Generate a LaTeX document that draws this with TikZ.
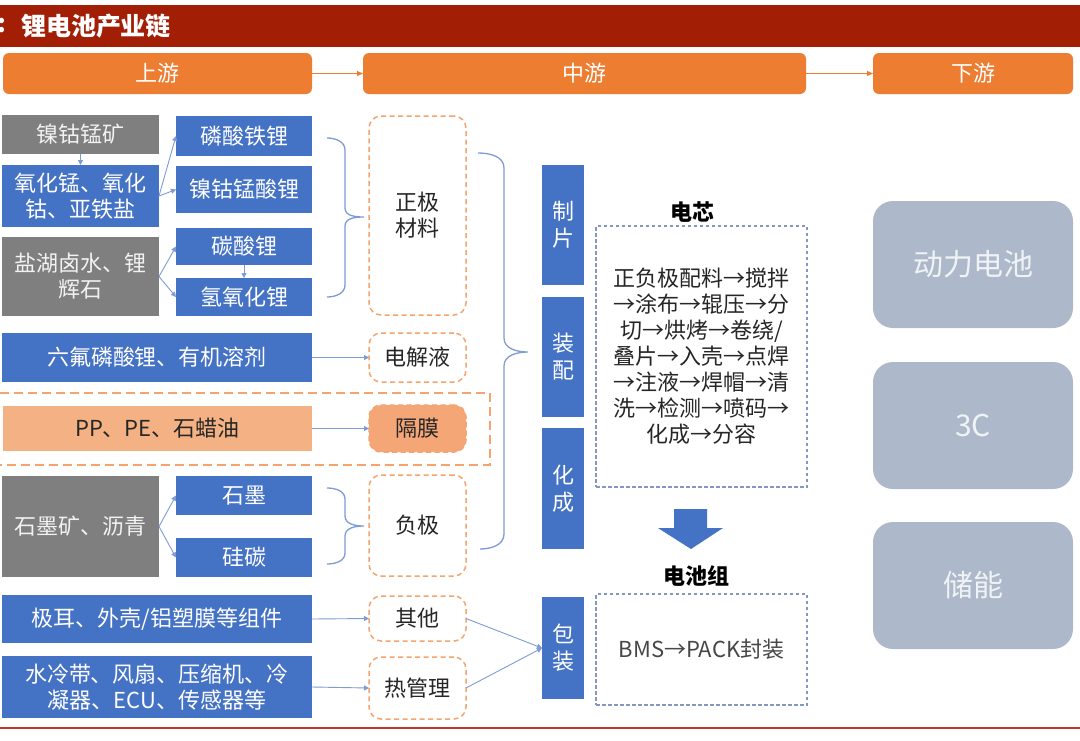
\documentclass[tikz,border=0pt]{standalone}
\usepackage{fontspec}
\setmainfont{Noto Sans CJK SC}
\usetikzlibrary{arrows.meta}
\definecolor{titlered}{HTML}{A21E05}
\definecolor{horange}{HTML}{ED7D31}
\definecolor{cblue}{HTML}{4472C4}
\definecolor{cgray}{HTML}{7F7F7F}
\definecolor{ppfill}{HTML}{F4B183}
\definecolor{gmfill}{HTML}{F4A677}
\definecolor{dorange}{HTML}{F4A46C}
\definecolor{dblue}{HTML}{8497C0}
\definecolor{cline}{HTML}{7E9BD4}
\definecolor{rgray}{HTML}{ADB9CA}
\definecolor{ctext}{HTML}{262626}
\definecolor{bline}{HTML}{C0392B}
\newcommand\fsz{\fontsize{22}{26}\selectfont}
\newcommand\mkbox[7]{\node[#1, minimum width={(#5)-(#3)}, minimum height={(#6)-(#4)}] (#2) at ({((#3)+(#5))/2},{((#4)+(#6))/2}) {#7};}
\tikzset{
 base/.style={inner sep=0pt, outer sep=0pt, align=center, font=\fsz},
 bluebox/.style={base, fill=cblue, text=white},
 graybox/.style={base, fill=cgray, text=white!90!cgray},
 headbox/.style={base, fill=horange, text=white, rounded corners=6pt},
 dashbox/.style={base, draw=dorange, line width=1.5pt, dash pattern=on 5pt off 3.5pt, rounded corners=12pt, text=ctext},
 gmbox/.style={dashbox, fill=gmfill},
 ppbox/.style={base, fill=ppfill, text=ctext},
 vbox/.style={base, fill=cblue, text=white, font=\fontsize{22}{27}\selectfont},
 cellbox/.style={base, draw=dblue, line width=1.2pt, dash pattern=on 3.5pt off 2.5pt, text=ctext},
 rbox/.style={base, fill=rgray, rounded corners=20pt, text=white!82!rgray, font=\fontsize{30}{34}\selectfont},
 conn/.style={draw=cline, line width=0.9pt, -{Triangle[length=5pt,width=5pt]}},
 hconn/.style={draw=horange, line width=1pt, -{Triangle[length=6pt,width=5pt]}},
 brace/.style={draw=cline, line width=1.3pt},
 blabel/.style={base, text=black, font=\fsz\bfseries},
}
\begin{document}
\begin{tikzpicture}[x=1pt,y=-1pt]
\useasboundingbox (0,0) rectangle (1080,740);
\fill[white] (0,0) rectangle (1080,740);
% title bar
\fill[titlered] (0,5) rectangle (1080,47);
\node[base, text=white, font=\fontsize{25}{28}\selectfont\bfseries] (tcolon) at (2,26) {:};
\node[base, anchor=west, text=white, font=\fontsize{25}{28}\selectfont\bfseries] (title) at (21,26) {锂电池产业链};
% headers
\mkbox{headbox}{up}{3}{53}{312}{94}{上游}
\mkbox{headbox}{mid}{363}{53}{806}{94}{中游}
\mkbox{headbox}{down}{873}{53}{1073}{94}{下游}
\draw[hconn] (up) -- (mid);
\draw[hconn] (mid) -- (down);
% cathode
\mkbox{graybox}{g1}{2}{115}{159}{154}{镍钴锰矿}
\mkbox{bluebox}{b1}{2}{165}{159}{227}{氧化锰、氧化\\钴、亚铁盐}
\mkbox{graybox}{g2}{2}{237}{159}{316}{盐湖卤水、锂\\辉石}
\mkbox{bluebox}{b2}{176}{116}{312}{156}{磷酸铁锂}
\mkbox{bluebox}{b3}{176}{166}{312}{213}{镍钴锰酸锂}
\mkbox{bluebox}{b4}{176}{228}{312}{265}{碳酸锂}
\mkbox{bluebox}{b5}{176}{278}{312}{316}{氢氧化锂}
\mkbox{dashbox}{zj}{369}{116}{466}{315}{正极\\材料}
\draw[conn] (g1.south) -- (b1.north);
\draw[conn] (b1.east) -- (b2.west);
\draw[conn] (b1.east) -- (b3.west);
\draw[conn] (g2.east) -- (b4.west);
\draw[conn] (g2.east) -- (b5.west);
\draw[conn] (b4.south) -- (b5.north);
\draw[brace] (327,138) to[out=0,in=90] (345,150) -- (345,208) to[out=-90,in=180] (364,217) to[out=180,in=90] (345,226) -- (345,285) to[out=-90,in=0] (327,297);
% electrolyte
\mkbox{bluebox}{b6}{2}{333}{312}{382}{六氟磷酸锂、有机溶剂}
\mkbox{dashbox}{djy}{369}{333}{466}{382}{电解液}
\draw[conn] (b6.east) -- (djy.west);
% separator
\draw[draw=dorange, line width=2pt, dash pattern=on 9pt off 5pt] (-5,393) rectangle (490,465);
\mkbox{ppbox}{pp}{3}{406}{312}{451}{PP、PE、石蜡油}
\mkbox{gmbox}{gm}{369}{405}{466}{452}{隔膜}
\draw[conn] (pp.east) -- (gm.west);
% anode
\mkbox{graybox}{g3}{2}{476}{159}{577}{石墨矿、沥青}
\mkbox{bluebox}{b7}{176}{476}{312}{515}{石墨}
\mkbox{bluebox}{b8}{176}{538}{312}{577}{硅碳}
\mkbox{dashbox}{fj}{369}{475}{466}{576}{负极}
\draw[conn] (g3.east) -- (b7.west);
\draw[conn] (g3.east) -- (b8.west);
\draw[brace] (327,488) to[out=0,in=90] (345,499) -- (345,516) to[out=-90,in=180] (364,526) to[out=180,in=90] (345,536) -- (345,553) to[out=-90,in=0] (327,564);
% others
\mkbox{bluebox}{b9}{2}{595}{312}{643}{极耳、外壳/铝塑膜等组件}
\mkbox{dashbox}{qt}{369}{596}{466}{641}{其他}
\mkbox{bluebox}{b10}{2}{656}{312}{718}{水冷带、风扇、压缩机、冷\\凝器、ECU、传感器等}
\mkbox{dashbox}{rgl}{369}{657}{466}{719}{热管理}
\draw[conn] (b9.east) -- (qt.west);
\draw[conn] (b10.east) -- (rgl.west);
% big brace
\draw[brace] (478,153) to[out=0,in=90] (504,168) -- (504,338) to[out=-90,in=180] (528,352) to[out=180,in=90] (504,366) -- (504,534) to[out=-90,in=0] (480,549);
% midstream process
\mkbox{vbox}{zp}{542}{165}{584}{285}{制\\片}
\mkbox{vbox}{zpei}{542}{297}{584}{417}{装\\配}
\mkbox{vbox}{hc}{542}{428}{584}{549}{化\\成}
\mkbox{vbox}{bz}{542}{597}{584}{699}{包\\装}
\draw[conn] (qt.east) -- (bz.west);
\draw[conn] (rgl.east) -- (bz.west);
\node[blabel] (dxl) at (692,212) {电芯};
\mkbox{cellbox}{dx}{596}{226}{807}{487}{正负极配料→搅拌\\→涂布→辊压→分\\切→烘烤→卷绕/\\叠片→入壳→点焊\\→注液→焊帽→清\\洗→检测→喷码→\\化成→分容}
\fill[cblue] (674,509) -- (707,509) -- (707,528) -- (723,528) -- (691,549) -- (658,528) -- (674,528) -- cycle;
\node[blabel] (dcz) at (696,576) {电池组};
\mkbox{cellbox}{pack}{596}{594}{807}{705}{\textcolor{ctext!85!white}{BMS→PACK封装}}
% downstream
\mkbox{rbox}{dl}{873}{201}{1073}{328}{动力电池}
\mkbox{rbox}{c3}{873}{362}{1073}{489}{3C}
\mkbox{rbox}{cn}{873}{522}{1073}{649}{储能}
% bottom line
\draw[bline, line width=2pt] (0,728) -- (1080,728);
\end{tikzpicture}
\end{document}
